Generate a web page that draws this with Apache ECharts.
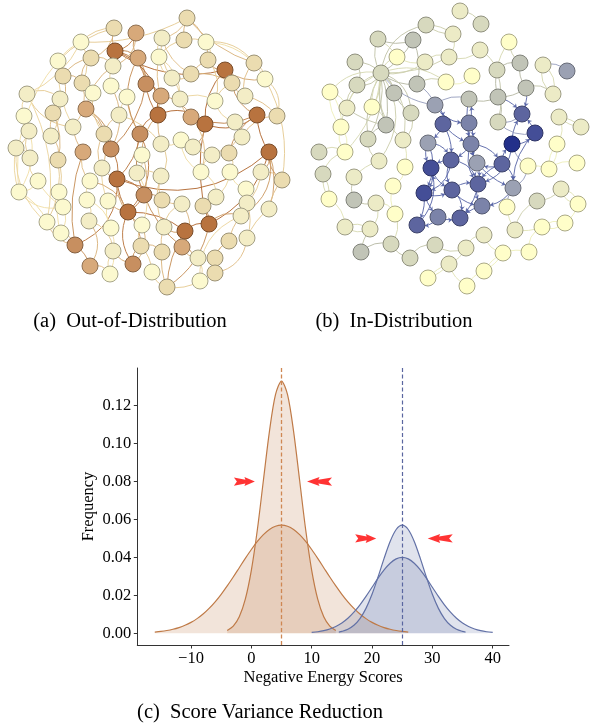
<!DOCTYPE html>
<html><head><meta charset="utf-8">
<script src="https://cdn.jsdelivr.net/npm/echarts@6/dist/echarts.min.js"></script>
<style>html,body{margin:0;padding:0;background:#fff}#c{width:597px;height:726px}</style>
</head><body><div id="c"></div>
<script>
// ================= DATA =================
// (a) Out-of-Distribution graph: node positions (panel pixel space) and colour level 0..5
const oodNodeX = [187,114,136,162,184,81,206,115,91,138,
  159,58,208,225,254,113,63,172,191,146,
  82,111,232,265,27,93,127,161,180,60,
  215,245,86,53,24,119,158,191,205,235,
  257,277,29,73,51,104,140,242,16,83,
  111,161,181,193,142,212,229,269,30,58,
  102,137,161,201,230,261,117,282,38,90,
  246,19,59,144,162,87,108,216,182,203,
  247,269,63,128,241,47,89,142,111,164,
  185,209,61,229,247,75,113,141,162,182,
  198,215,90,133,215,110,152,200,167];
const oodNodeY = [18,28,33,38,40,42,42,51,58,58,
  57,61,60,70,63,66,76,78,74,84,
  83,86,83,79,94,93,97,96,99,99,
  101,96,109,113,116,115,115,117,124,122,
  115,116,131,127,136,134,134,137,148,152,
  149,144,140,147,155,155,153,152,158,160,
  168,173,176,172,172,172,179,180,181,181,
  189,192,192,195,200,200,201,197,204,206,
  203,209,207,212,216,222,221,225,228,227,
  231,224,233,241,238,245,251,246,252,247,
  258,258,266,264,273,274,272,281,287];
const oodNodeLevel = [2,2,3,1,2,0,0,5,2,3,
  0,0,2,5,2,1,2,1,2,4,
  2,0,2,0,1,0,0,3,1,1,
  0,1,3,2,0,1,5,3,5,1,
  5,2,1,1,1,2,4,1,1,3,
  4,1,0,1,0,1,2,5,1,2,
  1,1,1,0,0,1,5,2,0,0,
  0,0,0,4,2,0,0,1,1,2,
  1,1,0,5,1,0,1,0,0,1,
  5,5,0,2,1,4,1,2,2,3,
  1,2,3,4,2,0,0,0,2];
const oodEdges = [[7,9],[7,13],[7,19],[7,2],[9,19],[19,36],[19,27],[27,36],[36,38],[38,40],
  [38,37],[40,57],[40,22],[13,38],[13,12],[36,46],[46,66],[66,83],[66,73],[66,50],
  [66,95],[66,57],[83,90],[83,73],[90,91],[91,57],[57,65],[57,67],[57,81],[38,91],
  [38,53],[36,54],[46,83],[83,103],[95,102],[73,99],[90,99],[91,79],[91,84],[50,32],
  [50,45],[49,95],[32,45],[37,40],[13,22],[2,9],[7,1],[9,27],[27,37],[13,23],
  [103,97],[90,100],[73,46],[0,4],[0,3],[1,5],[1,8],[3,10],[4,6],[5,11],
  [6,14],[8,16],[8,15],[10,17],[11,16],[12,18],[14,23],[15,21],[16,20],[17,18],
  [18,22],[20,25],[21,26],[22,31],[24,29],[24,34],[25,32],[26,35],[28,30],[28,37],
  [29,33],[30,39],[31,41],[33,44],[34,42],[35,45],[39,47],[41,47],[42,48],[43,49],
  [44,59],[47,56],[48,58],[51,52],[52,53],[53,55],[54,61],[55,63],[56,64],[58,68],
  [59,72],[60,69],[61,62],[62,74],[63,77],[64,70],[65,80],[67,81],[68,71],[69,75],
  [70,84],[71,82],[72,82],[74,78],[75,86],[76,88],[77,79],[78,89],[80,94],[81,94],
  [82,92],[85,92],[86,96],[87,97],[88,105],[89,98],[92,95],[93,101],[94,104],[96,105],
  [97,106],[98,108],[100,107],[101,104],[102,105],[106,108],[107,108],[11,43],[5,20],[3,17],
  [6,12],[24,43],[29,44],[60,76],[61,87],[62,89],[51,62],[45,60],[35,51],[26,46],
  [21,50],[15,32],[16,33],[42,58],[71,85],[68,82],[75,88],[96,103],[97,98],[99,100],
  [101,93],[84,93],[80,84],[77,64],[55,56],[52,63],[17,28],[10,27],[12,30],[22,30],
  [23,41],[14,31],[5,24],[1,11],[0,12],[4,10],[86,102],[85,95],[33,59],[48,71],
  [65,67],[70,80],[78,99],[74,73],[54,73],[60,66],[69,83],[76,83],[87,103],[89,90],
  [24,85],[0,14],[6,23],[11,71],[107,84],[48,92],[23,67],[5,0],[34,71],[108,91],
  [7,36],[9,46],[19,50],[27,51],[37,63],[40,56],[57,84],[66,87],[83,97],[90,108],
  [20,43],[25,45],[32,60],[49,69],[59,85],[72,92],[10,28],[3,18],[2,15],[8,20]];

// (b) In-Distribution graph: node positions and colour level 0..8
const idNodeX = [460,481,426,453,378,413,509,480,355,397,
  425,449,520,543,567,381,497,472,446,417,
  357,330,526,553,394,469,498,435,347,372,
  411,522,559,443,469,498,386,341,581,535,
  368,403,428,471,512,557,319,345,451,477,
  502,379,431,405,528,549,577,323,354,478,
  393,424,452,513,561,329,354,376,507,482,
  537,578,395,438,460,417,345,370,515,542,
  565,484,391,435,466,361,410,503,529,449,
  484,428,467];
const idNodeY = [11,24,25,34,39,40,42,50,62,57,
  62,57,63,65,71,73,70,76,82,84,
  85,92,88,94,93,99,97,105,108,107,
  113,114,117,124,123,122,125,127,127,133,
  139,140,143,144,144,144,152,152,160,163,
  164,161,168,167,166,169,163,174,177,184,
  186,193,190,188,189,199,200,203,207,206,
  201,204,214,217,218,225,227,229,230,227,
  223,235,244,245,248,252,258,253,252,264,
  271,278,286];
const idNodeLevel = [1,2,2,1,2,3,0,1,2,0,
  1,1,3,1,4,2,2,0,0,3,
  2,0,3,1,3,3,3,4,1,0,
  2,6,1,6,5,2,3,0,1,7,
  2,1,4,5,8,0,2,0,6,4,
  6,1,7,0,0,0,0,2,1,6,
  0,7,6,4,1,0,3,1,0,5,
  2,0,0,5,6,6,1,1,1,0,
  0,1,2,2,1,3,2,0,0,1,
  0,0,0];
const idEdges = [[15,4],[15,8],[15,20],[15,28],[15,29],[15,36],[15,24],[15,19],[15,30],[15,41],
  [15,40],[15,5],[15,9],[15,10],[15,2],[15,21],[15,47],[15,11],[15,18],[15,27],
  [15,51],[15,37],[2,3],[2,3],[3,11],[9,10],[10,11],[11,7],[7,16],[6,16],
  [16,12],[12,22],[13,23],[13,23],[22,26],[16,26],[26,35],[25,26],[17,18],[18,19],
  [19,27],[24,30],[27,25],[36,40],[30,41],[40,51],[41,53],[51,58],[53,60],[58,66],
  [46,47],[47,57],[57,65],[57,65],[65,76],[66,67],[67,77],[76,77],[76,77],[77,85],
  [85,82],[82,86],[86,83],[83,84],[84,89],[89,91],[89,91],[89,92],[84,81],[81,87],
  [87,88],[87,90],[87,90],[90,92],[88,79],[79,80],[79,80],[78,79],[78,70],[70,64],
  [64,71],[64,71],[71,80],[55,54],[55,56],[45,55],[45,55],[45,32],[32,38],[32,38],
  [21,28],[21,37],[21,37],[37,47],[37,47],[28,36],[29,36],[60,72],[67,72],[82,72],
  [68,63],[68,78],[54,63],[6,12],[22,23],[14,13],[22,31],[35,16],[0,1],[4,5],
  [27,33],[27,34],[33,42],[33,43],[34,43],[34,25],[42,48],[42,52],[43,48],[43,49],
  [43,50],[48,52],[48,59],[48,62],[49,59],[49,63],[50,44],[50,59],[50,63],[44,39],
  [44,31],[39,31],[31,35],[44,54],[52,61],[61,62],[61,75],[61,73],[62,59],[62,69],
  [62,74],[59,69],[59,74],[69,74],[63,69],[73,74],[73,75],[75,52],[33,48],[34,49],
  [50,49],[39,63],[44,59],[35,39],[26,31],[25,43],[42,61],[52,62],[48,61],[43,59],
  [15,36],[15,40],[15,41],[15,29],[8,20],[20,28],[5,19],[9,4]];

// (c) Negative energy score densities
const oodWideX = [-16,-15,-14,-13,-12,-11,-10,-9,-8,-7,-6,-5,-4,-3,-2,-1,0,1,2,3,4,5,6,7,8,9,10,11,12,13,14,15,16,17,18,19,20,21,22,23,24,25,26];
const oodWideY = [0.00063,0.00096,0.00143,0.00209,0.00299,0.00418,0.00574,0.00771,0.01016,0.01312,0.01658,0.02054,0.02494,0.02966,0.03457,0.03948,0.04416,0.04841,0.05200,0.05472,0.05642,0.05700,0.05642,0.05472,0.05200,0.04841,0.04416,0.03948,0.03457,0.02966,0.02494,0.02054,0.01658,0.01312,0.01016,0.00771,0.00574,0.00418,0.00299,0.00209,0.00143,0.00096,0.00063];
const oodNarrowX = [-4,-3,-2,-1,0,1,2,3,4,5,6,7,8,9,10,11,12,13,14];
const oodNarrowY = [0.00148,0.0038,0.00874,0.0180,0.0332,0.0547,0.0807,0.1065,0.1258,0.1330,0.1258,0.1065,0.0807,0.0547,0.0332,0.0180,0.00874,0.0038,0.00148];
const idWideX = [10,11,12,13,14,15,16,17,18,19,20,21,22,23,24,25,26,27,28,29,30,31,32,33,34,35,36,37,38,39,40];
const idWideY = [0.00044,0.00079,0.00136,0.00225,0.00356,0.00541,0.00792,0.01112,0.01501,0.01947,0.02426,0.02904,0.03341,0.03692,0.03921,0.04000,0.03921,0.03692,0.03341,0.02904,0.02426,0.01947,0.01501,0.01112,0.00792,0.00541,0.00356,0.00225,0.00136,0.00079,0.00044];
const idNarrowX = [14.5,15,16,17,18,19,20,21,22,23,24,25,26,27,28,29,30,31,32,33,34,35,35.5];
const idNarrowY = [0.00063,0.00096,0.00209,0.00418,0.00771,0.01312,0.02054,0.02966,0.03948,0.04841,0.05472,0.05700,0.05472,0.04841,0.03948,0.02966,0.02054,0.01312,0.00771,0.00418,0.00209,0.00096,0.00063];
const oodMean = 5;
const idMean = 25;
const arrowsRight = [[-1.15,0.08],[18.95,0.05]];
const arrowsLeft = [[11.3,0.08],[31.3,0.05]];
const xTicks = [-10,0,10,20,30,40];
const yTicks = [0,0.02,0.04,0.06,0.08,0.10,0.12];

// ================= STYLE HELPERS =================
function hex2rgb(h){h=h.replace('#','');return [parseInt(h.substr(0,2),16),parseInt(h.substr(2,2),16),parseInt(h.substr(4,2),16)];}
function mix(a,b,t){t=Math.max(0,Math.min(1,t));const A=hex2rgb(a),B=hex2rgb(b);return 'rgb('+A.map((v,i)=>Math.round(v+(B[i]-v)*t)).join(',')+')';}
function mixHex(a,b,t){const A=hex2rgb(a),B=hex2rgb(b);return '#'+A.map((v,i)=>{const c=Math.round(v+(B[i]-v)*t);return (c<16?'0':'')+c.toString(16);}).join('');}

const oodPalette = ['#fcf9cf','#f3edc6','#ebdcb0','#d7a97a','#c78f60','#b8733f'];
const idPalette = ['#fffec9','#ecebc6','#d7d9be','#c1c4b7','#9ba1b3','#7b83a9','#5d659f','#444e97','#23308a'];

function buildGraph(xs, ys, levels, edges, palette, edgeStyleFn, gi){
  const data = xs.map((x,i)=>({
    value:[x, ys[i]],
    itemStyle:{color:palette[levels[i]], borderColor:mixHex(palette[levels[i]],'#000000',0.33), borderWidth:1}
  }));
  const curv = [0.28,-0.22,0.36,-0.3,0.18,-0.14];
  const first = {};
  const links = edges.map((e,i)=>{
    const key = Math.min(e[0],e[1])+'-'+Math.max(e[0],e[1]);
    let c = curv[i%curv.length];
    if (first[key] !== undefined) c = -first[key]; else first[key] = c;
    const st = edgeStyleFn(levels[e[0]], levels[e[1]]);
    const link = {source:e[0], target:e[1], lineStyle:{color:st.color, width:st.width, opacity:st.opacity, curveness:c}};
    if (st.arrow) { link.symbol = ['none','arrow']; link.symbolSize = [0,4]; }
    return link;
  });
  return {
    type:'graph', coordinateSystem:'cartesian2d', xAxisIndex:gi, yAxisIndex:gi,
    symbol:'circle', symbolSize:16, data, links, silent:true, animation:false,
    edgeSymbol:['none','none'], label:{show:false}, emphasis:{disabled:true}
  };
}

function oodEdgeStyle(a,b){
  const t = (a+b)/10;
  return {color: mix('#f1dfa9','#b36c36', Math.pow(t,1.1)), width:1, opacity:0.95};
}
function idEdgeStyle(a,b){
  const lo = Math.min(a,b), hi = Math.max(a,b);
  if (lo >= 4 || (hi >= 5 && lo >= 3)) return {color:'#5563a5', width:1, opacity:0.9, arrow:true};
  if (hi >= 4) return {color:'#959cbc', width:1, opacity:0.9};
  return {color: mix('#eeefbd','#b8bba6', (a+b)/5), width:1, opacity:0.95};
}

const serif = 'Liberation Serif, Times New Roman, serif';
const brown = '#bf7a47', blue = '#6271a6';
const zip = (xs, ys) => xs.map((x,i)=>[x, ys[i]]);

function density(name, xs, ys, color){
  return {
    type:'line', name, xAxisIndex:2, yAxisIndex:2, data:zip(xs,ys), smooth:0.3,
    showSymbol:false, silent:true, animation:false,
    lineStyle:{color, width:1.2}, itemStyle:{color},
    areaStyle:{color, opacity:0.2, origin:0}, z:3
  };
}

const arrowPath = 'path://M0,0.4 L3,4.5 L0,8.6 L11.5,6.4 L10.5,9 L21,4.5 L10.5,0 L11.5,2.6 Z';

const hiddenAxis = (gi, mn, mx, inv) => ({type:'value', gridIndex:gi, min:mn, max:mx, inverse:!!inv, show:false, splitLine:{show:false}});

const option = {
  backgroundColor:'#ffffff',
  animation:false,
  grid:[
    {left:0, top:0, width:300, height:300},
    {left:300, top:0, width:297, height:300},
    {left:137.3, top:368, right:88, bottom:81}
  ],
  xAxis:[
    hiddenAxis(0,0,300),
    hiddenAxis(1,300,597),
    {type:'value', gridIndex:2, min:-18.9, max:42.7, splitLine:{show:false},
     axisLine:{show:true, onZero:false, lineStyle:{color:'#333', width:1}},
     axisTick:{show:true, length:3.5, customValues:xTicks, lineStyle:{color:'#333', width:1}},
     axisLabel:{customValues:xTicks, formatter:v=>String(v).replace('-','\u2212'), fontFamily:serif, fontSize:16.5, color:'#000', margin:5},
     name:'Negative Energy Scores', nameLocation:'middle', nameGap:24, nameMoveOverlap:false,
     nameTextStyle:{fontFamily:serif, fontSize:16.5, color:'#000'}}
  ],
  yAxis:[
    hiddenAxis(0,0,300,true),
    hiddenAxis(1,0,300,true),
    {type:'value', gridIndex:2, min:-0.0062, max:0.1399, splitLine:{show:false},
     axisLine:{show:true, onZero:false, lineStyle:{color:'#333', width:1}},
     axisTick:{show:true, length:3.5, customValues:yTicks, lineStyle:{color:'#333', width:1}},
     axisLabel:{customValues:yTicks, formatter:v=>v.toFixed(2), fontFamily:serif, fontSize:16.5, color:'#000', margin:6},
     name:'Frequency', nameLocation:'middle', nameGap:40, nameRotate:90, nameMoveOverlap:false,
     nameTextStyle:{fontFamily:serif, fontSize:16.5, color:'#000'}}
  ],
  series:[
    buildGraph(oodNodeX, oodNodeY, oodNodeLevel, oodEdges, oodPalette, oodEdgeStyle, 0),
    buildGraph(idNodeX, idNodeY, idNodeLevel, idEdges, idPalette, idEdgeStyle, 1),
    density('OOD wide', oodWideX, oodWideY, brown),
    Object.assign(density('OOD narrow', oodNarrowX, oodNarrowY, brown), {
      markLine:{silent:true, symbol:['none','none'], label:{show:false},
        lineStyle:{color:'#cf8753', type:[4,2.5], width:1.3}, data:[{xAxis:oodMean}], animation:false}
    }),
    density('ID wide', idWideX, idWideY, blue),
    Object.assign(density('ID narrow', idNarrowX, idNarrowY, blue), {
      markLine:{silent:true, symbol:['none','none'], label:{show:false},
        lineStyle:{color:'#5a66a0', type:[4,2.5], width:1.2}, data:[{xAxis:idMean}], animation:false}
    }),
    {type:'scatter', xAxisIndex:2, yAxisIndex:2, data:arrowsRight, symbol:arrowPath, symbolSize:[21,9],
     itemStyle:{color:'#ff0000'}, silent:true, z:5},
    {type:'scatter', xAxisIndex:2, yAxisIndex:2, data:arrowsLeft, symbol:arrowPath, symbolSize:[25,9], symbolRotate:180,
     itemStyle:{color:'#ff0000'}, silent:true, z:5}
  ],
  graphic:[
    {type:'text', x:130, y:322, style:{text:'(a)  Out-of-Distribution', font:'20.5px '+serif, fill:'#000', textAlign:'center', textVerticalAlign:'middle'}},
    {type:'text', x:394, y:322, style:{text:'(b)  In-Distribution', font:'20.5px '+serif, fill:'#000', textAlign:'center', textVerticalAlign:'middle'}},
    {type:'text', x:260, y:713, style:{text:'(c)  Score Variance Reduction', font:'20.5px '+serif, fill:'#000', textAlign:'center', textVerticalAlign:'middle'}}
  ]
};
const chart = echarts.init(document.getElementById('c'), null, {renderer:'canvas'});
chart.setOption(option);
</script>
</body></html>
